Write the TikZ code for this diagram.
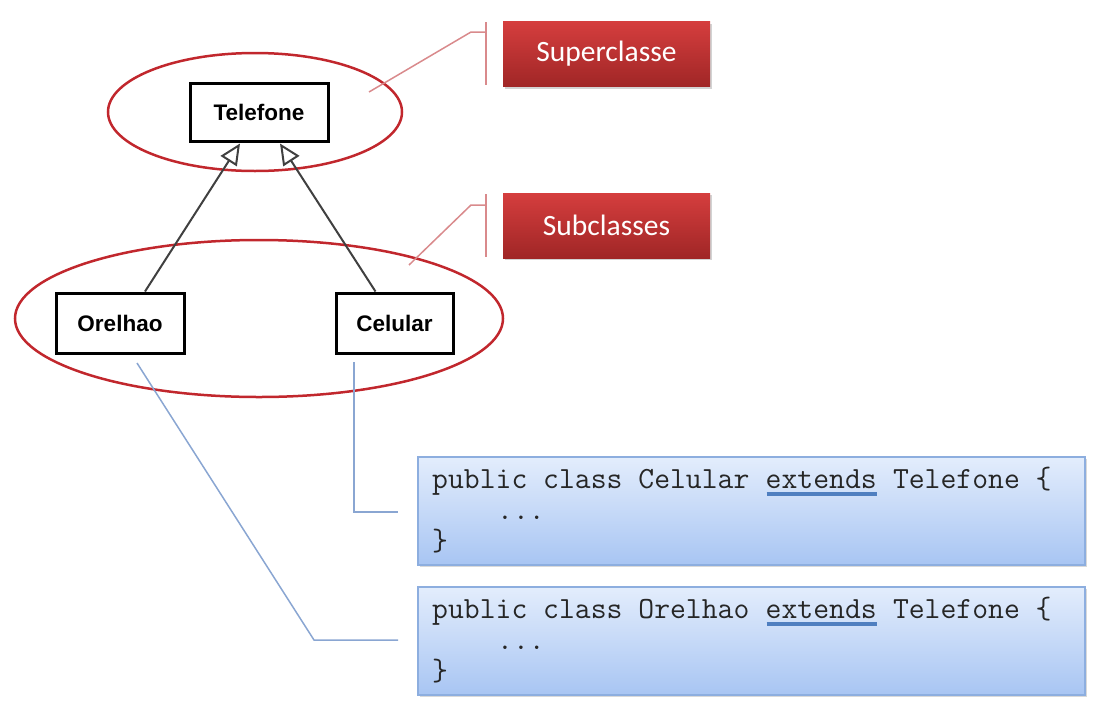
\documentclass[tikz,border=0pt]{standalone}
\usepackage{fontspec}
\setmainfont{Liberation Sans}
\newfontfamily\calib{Carlito}
\usetikzlibrary{shapes.geometric,arrows.meta,shadows,calc}
\definecolor{ellred}{HTML}{C1272D}
\definecolor{callred}{HTML}{D98A8C}
\definecolor{boxtop}{HTML}{D53E3E}
\definecolor{boxbot}{HTML}{A02626}
\definecolor{codetop}{HTML}{E3EDFC}
\definecolor{codebot}{HTML}{A8C5F3}
\definecolor{codeborder}{HTML}{8DAEDF}
\definecolor{conblue}{HTML}{8AA6D2}
\definecolor{ulblue}{HTML}{4F7FC0}
\tikzset{
  umlbox/.style={draw=black, line width=3pt, fill=white, inner sep=0pt,
    font=\fontsize{22.5}{26}\selectfont\bfseries},
  ring/.style={ellipse, draw=ellred, line width=2.5pt, inner sep=0pt},
  redlabel/.style={inner sep=0pt, top color=boxtop, bottom color=boxbot,
    text=white, font=\calib\fontsize{29.5}{33}\selectfont,
    minimum width=207pt, minimum height=65pt,
    drop shadow={opacity=0.35, shadow xshift=2pt, shadow yshift=-2pt}},
  codebox/.style={draw=codeborder, line width=1.2pt, top color=codetop, bottom color=codebot,
    minimum width=667pt, minimum height=108pt, inner sep=0pt,
    drop shadow={opacity=0.3, shadow xshift=2pt, shadow yshift=-2pt}},
  codeline/.style={anchor=base west, inner sep=0pt, font=\ttfamily\fontsize{30.8}{34}\selectfont, text=black!85},
  inherit/.style={draw=black!75, line width=2pt, -{Triangle[open, length=21pt, width=19pt, line width=2pt, fill=white]}},
  callout/.style={draw=callred, line width=1.5pt},
  conn/.style={draw=conblue, line width=1.5pt},
  underl/.style={draw=ulblue, line width=3.5pt},
}
\begin{document}
\begin{tikzpicture}[x=1pt,y=-1pt]
\useasboundingbox (0,0) rectangle (1105,715);
% ellipses
\node[ring, minimum width=294pt, minimum height=118pt] (supE) at (255,112) {};
\node[ring, minimum width=488pt, minimum height=157pt] (subE) at (259,318.5) {};
% class boxes
\node[umlbox, minimum width=138pt, minimum height=58pt] (telefone) at (259,112) {Telefone};
\node[umlbox, minimum width=128pt, minimum height=60pt] (orelhao) at (120,323) {Orelhao};
\node[umlbox, minimum width=117pt, minimum height=60pt] (celular) at (394.5,323) {Celular};
% inheritance arrows
\draw[inherit] ($(orelhao.north)+(25,0)$) -- ($(telefone.south)+(-19,1)$);
\draw[inherit] ($(celular.north)+(-19,0)$) -- ($(telefone.south)+(21,1)$);
% red labels
\node[redlabel] (superl) at (606.5,54) {Superclasse};
\node[redlabel] (subl) at (606.5,225.5) {Subclasses};
% callouts
\coordinate (c1) at (369,92);
\coordinate (c1k) at (471,32);
\coordinate (c1b) at (486,32);
\coordinate (c1t) at (486,22);
\coordinate (c1d) at (486,85);
\draw[callout] (c1) -- (c1k) -- (c1b);
\draw[callout] (c1t) -- (c1d);
\coordinate (c2) at (409,265);
\coordinate (c2k) at (471,205);
\coordinate (c2b) at (486,205);
\coordinate (c2t) at (486,194);
\coordinate (c2d) at (486,257);
\draw[callout] (c2) -- (c2k) -- (c2b);
\draw[callout] (c2t) -- (c2d);
% code boxes
\node[codebox] (celcode) at (751.5,511) {};
\node[codebox] (orecode) at (751.5,641) {};
\node[codeline] (cl1a) at (432,488) {public class Celular\hphantom{x}};
\node[codeline] (cl1b) at (cl1a.base east) {extends};
\node[codeline] (cl1c) at (cl1b.base east) {\hphantom{x}Telefone \{};
\node[codeline] (cl2) at (497,519) {...};
\node[codeline] (cl3) at (432,550) {\}};
\node[codeline] (ol1a) at (432,618) {public class Orelhao\hphantom{x}};
\node[codeline] (ol1b) at (ol1a.base east) {extends};
\node[codeline] (ol1c) at (ol1b.base east) {\hphantom{x}Telefone \{};
\node[codeline] (ol2) at (497,649) {...};
\node[codeline] (ol3) at (432,680) {\}};
\draw[underl] ($(cl1b.base west)+(1,6)$) -- ($(cl1b.base east)+(0,6)$);
\draw[underl] ($(ol1b.base west)+(1,6)$) -- ($(ol1b.base east)+(0,6)$);
% connectors to code
\coordinate (cc0) at (354,362);
\coordinate (cc1) at (354,512);
\coordinate (cc2) at (398,512);
\draw[conn] (cc0) -- (cc1) -- (cc2);
\coordinate (oc0) at (137,363);
\coordinate (oc1) at (314,640);
\coordinate (oc2) at (398,640);
\draw[conn] (oc0) -- (oc1) -- (oc2);
\end{tikzpicture}
\end{document}
